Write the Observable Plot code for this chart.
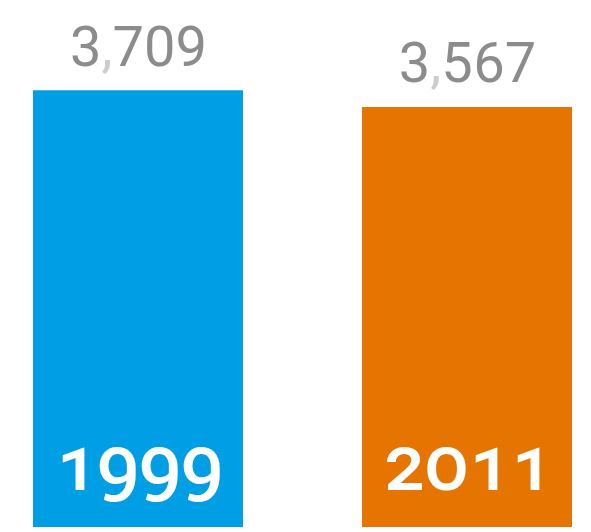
<!DOCTYPE html>
<html>
<head>
<meta charset="utf-8">
<script src="https://cdn.jsdelivr.net/npm/d3@7"></script>
<script src="https://cdn.jsdelivr.net/npm/@observablehq/plot@0.6"></script>
<style>
  html, body { margin: 0; padding: 0; background: #ffffff; }
  #chart svg { display: block; }
</style>
</head>
<body>
<div id="chart"></div>
<script>
const years = ["1999", "2011"];
const values = [3709, 3567];
const colors = ["#009fe5", "#e57500"];

const data = years.map((year, i) => ({year, value: values[i], color: colors[i]}));

const chart = Plot.plot({
  width: 591,
  height: 532,
  marginLeft: 33,
  marginRight: 19,
  marginTop: 56,
  marginBottom: 5,
  x: {domain: years, paddingInner: 0.362, paddingOuter: 0, axis: null},
  y: {domain: [0, 4000], axis: null},
  marks: [
    Plot.barY(data, {x: "year", y: "value", fill: "color"}),
    Plot.text(data, {
      x: "year", y: "value", text: d => d3.format(",")(d.value),
      lineAnchor: "bottom", dy: -25, fill: "#8c8c8c",
      fontSize: 56, fontFamily: "Roboto", fontWeight: 400,
      fontVariant: "lining-nums",
      className: "vallab"
    }),
    Plot.text(data, {
      x: "year", y: () => 0, text: "year",
      lineAnchor: "bottom", dy: -38, fill: "#ffffff",
      fontSize: 74, fontFamily: "Roboto", fontWeight: 500,
      fontVariant: "oldstyle-nums",
      className: "yearlab"
    })
  ]
});
// lighter comma in value labels
chart.querySelectorAll(".vallab text").forEach(t => {
  const s = t.textContent;
  t.textContent = "";
  for (const part of s.split(/(,)/)) {
    if (!part) continue;
    const ts = document.createElementNS("http://www.w3.org/2000/svg", "tspan");
    ts.textContent = part;
    if (part === ",") ts.setAttribute("fill", "#cccccc");
    t.appendChild(ts);
  }
});
document.getElementById("chart").appendChild(chart);
</script>
</body>
</html>
